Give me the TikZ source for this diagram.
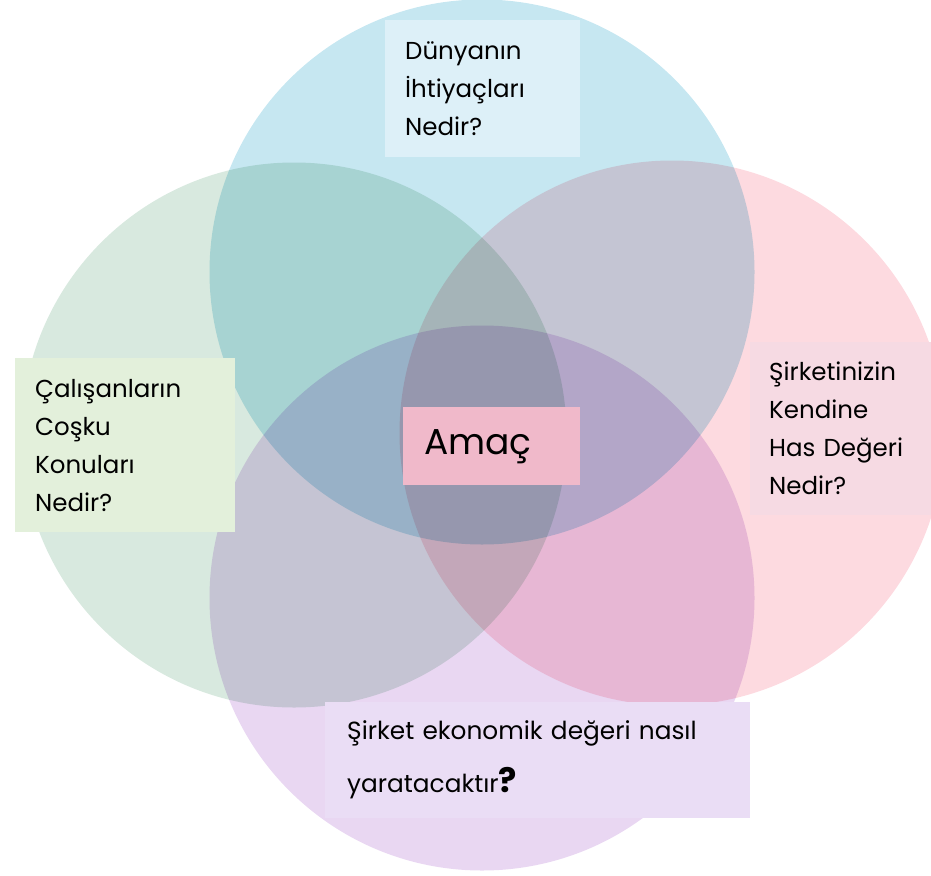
\documentclass[tikz,border=0pt]{standalone}
\usepackage{fontspec}
\setmainfont{Poppins}
\definecolor{cBlue}{HTML}{C6E7F1}
\definecolor{cGreen}{HTML}{D8E9DF}
\definecolor{cPink}{HTML}{FDDAE0}
\definecolor{cPurple}{HTML}{E9D7F2}
\definecolor{bTop}{HTML}{DDF0F8}
\definecolor{bLeft}{HTML}{E3F0DB}
\definecolor{bRight}{HTML}{F6DAE3}
\definecolor{bBottom}{HTML}{EADDF5}
\definecolor{bCenter}{HTML}{F0B9CA}
\tikzset{
  venn/.style={circle, minimum size=545pt, inner sep=0pt, fill=#1, blend mode=multiply},
  qbox/.style={rectangle, anchor=north west, inner ysep=0pt, align=left,
    font=\fontsize{24.5}{38}\selectfont, text=black},
}
\begin{document}
\begin{tikzpicture}[x=1pt,y=-1pt]
\useasboundingbox (0,0) rectangle (931,875);
\node[venn=cBlue]   (ctop)    at (482,272) {};
\node[venn=cGreen]  (cleft)   at (294,435) {};
\node[venn=cPink]   (cright)  at (672,433) {};
\node[venn=cPurple] (cbottom) at (482,598) {};
\node[qbox, fill=bTop, inner xsep=20pt, text width=155pt, minimum height=137pt] (ttop) at (385,20)
  {Dünyanın\\İhtiyaçları\\Nedir?};
\node[qbox, fill=bLeft, inner xsep=20pt, text width=180pt, minimum height=174pt] (tleft) at (15,358)
  {Çalışanların\\Coşku\\Konuları\\Nedir?};
\node[qbox, fill=bRight, inner xsep=19pt, text width=150pt, minimum height=173pt] (tright) at (750,342)
  {Şirketinizin\\Kendine\\Has Değeri\\Nedir?};
\node[qbox, fill=bBottom, inner xsep=22pt, text width=381pt, minimum height=116pt,
  font=\fontsize{24.8}{53}\selectfont] (tbottom) at (325,702)
  {Şirket ekonomik değeri nasıl\\yaratacaktır{\fontsize{34}{53}\selectfont\bfseries ?}};
\node[qbox, fill=bCenter, inner xsep=21pt, text width=135pt, minimum height=78pt,
  font=\fontsize{36}{44}\selectfont] (tcenter) at (403,407) {Amaç};
\end{tikzpicture}
\end{document}
